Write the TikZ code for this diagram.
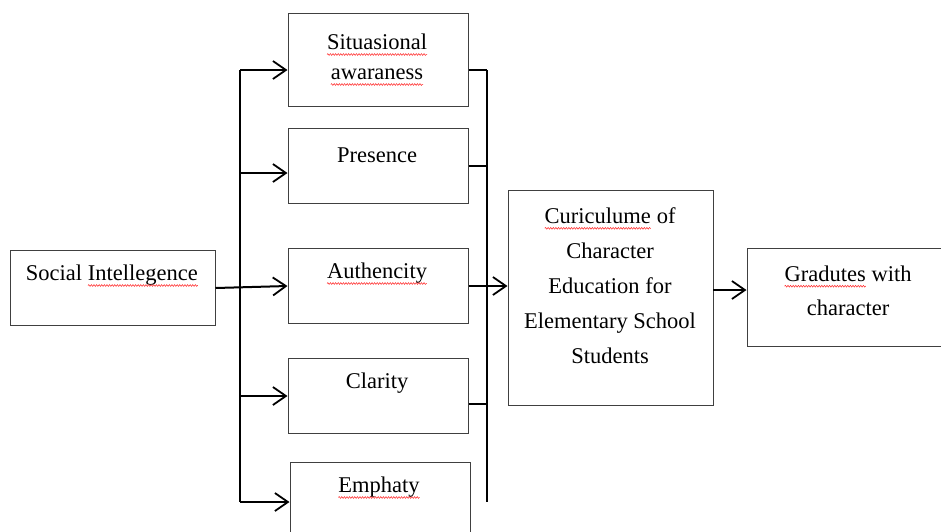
\documentclass[tikz,border=0pt]{standalone}
\usepackage{fontspec}
\setmainfont{Liberation Serif}
\usepackage{tikz}
\usepackage{color}
\usetikzlibrary{arrows.meta,decorations.pathmorphing}
\newcommand\spellmark[1]{\tikz[baseline=(w.base),x=1pt,y=1pt]{\node[inner sep=0pt, outer sep=0pt] (w) {#1};
		\draw[red!85, line width=0.5pt, decorate, decoration={snake, amplitude=0.9pt, segment length=2.6pt}] ([yshift=-4.5pt]w.base west) -- ([yshift=-4.5pt]w.base east);}}

\begin{document}
\begin{tikzpicture}[x=1pt,y=-1pt,
		box/.style={draw=black!75, line width=1pt, inner sep=0pt},
		bus/.style={draw=black, line width=2pt},
		flow/.style={draw=black, line width=2pt, -{Straight Barb[length=13pt,width=18pt,line width=1.8pt]}},
		txt/.style={font=\fontsize{22.5}{34}\selectfont, align=center, inner sep=0pt}]
				\useasboundingbox (0, 0) rectangle (941, 531);
				
				\node[box, minimum width=205, minimum height=75] (soc) at (112.5, 288) {};
				\node[box, minimum width=180, minimum height=93] (sit) at (378, 59.5) {};
				\node[box, minimum width=180, minimum height=75] (pres) at (378, 166) {};
				\node[box, minimum width=180, minimum height=75] (aut) at (378, 286) {};
				\node[box, minimum width=180, minimum height=75] (cla) at (378, 396) {};
				\node[box, minimum width=180, minimum height=90] (emp) at (380, 507) {};
				\node[box, minimum width=205, minimum height=215] (cur) at (610.5, 297.5) {};
				\node[box, minimum width=203, minimum height=98] (grad) at (848.5, 297) {};
				
				\node[txt] (socT) at (112, 276) {Social \spellmark{Intellegence}};
				\node[txt, font=\fontsize{22.5}{30}\selectfont] (sitT) at (377, 60) {\spellmark{Situasional}\\\spellmark{awaraness}};
				\node[txt] (presT) at (377, 155) {Presence};
				\node[txt] (autT) at (377, 274) {\spellmark{Authencity}};
				\node[txt] (claT) at (377, 383) {Clarity};
				\node[txt] (empT) at (379, 488) {\spellmark{Emphaty}};
				\node[txt, font=\fontsize{22.5}{35}\selectfont] (curT) at (610, 286) {\spellmark{Curiculume} of\\Character\\Education for\\Elementary School\\Students};
				\node[txt] (gradT) at (848, 291) {\spellmark{Gradutes} with\\character};
				
				\coordinate (lt) at (240, 70);
				\coordinate (lp) at (240, 173);
				\coordinate (lb) at (240, 502);
				\coordinate (rt) at (487, 70);
				\coordinate (rc) at (487, 404);
				\coordinate (rb) at (487, 502);
				\coordinate (ca) at (713, 290);
				
				\draw [bus] (lt) -- (lb);
				\draw [bus] (rt) -- (rb);
				
				\draw [flow] (lt) -- (lt -| sit.west);
				\draw [flow] (lp) -- (lp -| pres.west);
				\draw [flow] (soc.east) -- (aut.west);
				\draw [flow] (lb |- cla.west) -- (cla.west);
				\draw [flow] (lb) -- (lb -| emp.west);
				
				\draw [bus] (rt -| sit.east) -- (rt);
				\draw [bus] (pres.east) -- (pres.east -| rt);
				\draw [bus] (rc -| cla.east) -- (rc);
				\draw [flow] (aut.east) -- (aut.east -| cur.west);
				\draw [flow] (ca) -- (ca -| grad.west);
\end{tikzpicture}
\end{document}
